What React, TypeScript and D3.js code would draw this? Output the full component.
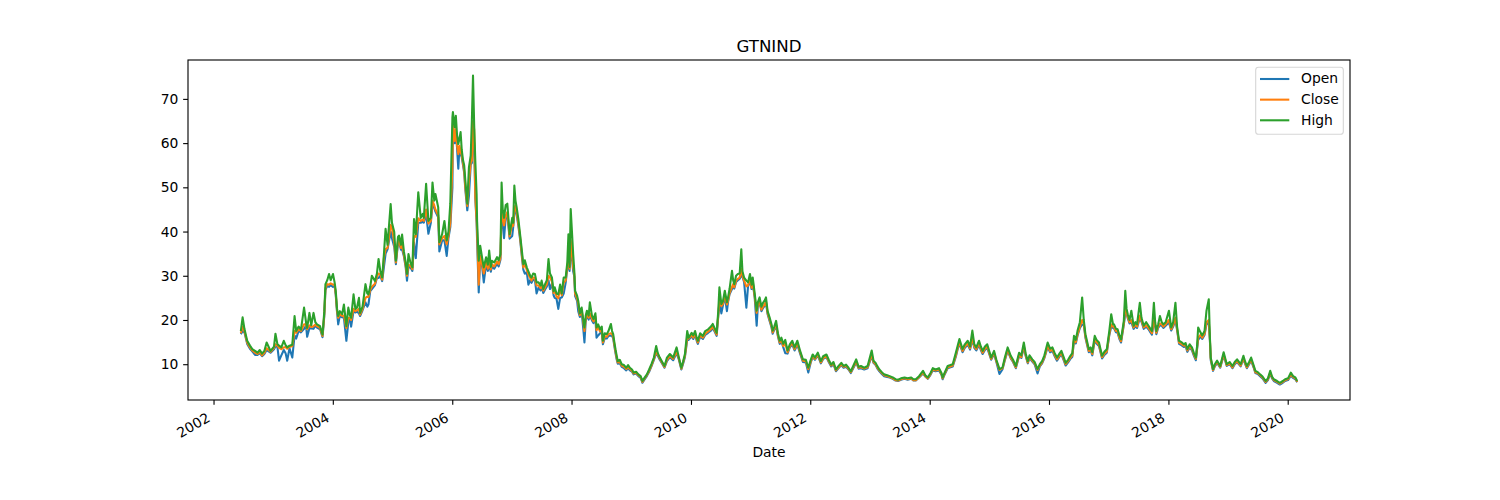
import React, { useEffect, useRef } from 'react'
import * as d3 from 'd3'

// GTNIND prices, sampled roughly every two weeks (one row per year)
const dates: string[] = [
  '2002-06-17', '2002-06-28', '2002-07-09', '2002-07-26', '2002-08-12', '2002-08-26', '2002-09-12', '2002-09-27', '2002-10-11', '2002-10-25', '2002-11-08', '2002-11-22', '2002-12-16',
  '2003-01-06', '2003-01-15', '2003-01-27', '2003-02-06', '2003-02-20', '2003-03-07', '2003-03-18', '2003-03-28', '2003-04-11', '2003-04-28', '2003-05-12', '2003-05-22', '2003-06-06', '2003-06-20', '2003-07-09', '2003-07-21', '2003-07-28', '2003-08-11', '2003-08-22', '2003-09-05', '2003-09-16', '2003-09-26', '2003-10-15', '2003-10-30', '2003-11-10', '2003-11-17', '2003-11-28', '2003-12-09', '2003-12-19',
  '2004-01-02', '2004-01-12', '2004-01-19', '2004-01-27', '2004-02-03', '2004-02-13', '2004-02-27', '2004-03-09', '2004-03-24', '2004-04-05', '2004-04-15', '2004-04-22', '2004-05-07', '2004-05-18', '2004-05-28', '2004-06-09', '2004-06-16', '2004-07-01', '2004-07-19', '2004-07-30', '2004-08-06', '2004-08-17', '2004-08-27', '2004-09-15', '2004-09-27', '2004-10-07', '2004-10-18', '2004-10-29', '2004-11-09', '2004-11-19', '2004-12-01', '2004-12-20', '2004-12-28',
  '2005-01-11', '2005-01-21', '2005-02-03', '2005-02-09', '2005-02-21', '2005-02-28', '2005-03-11', '2005-03-22', '2005-03-30', '2005-04-08', '2005-04-20', '2005-05-02', '2005-05-12', '2005-05-23', '2005-06-07', '2005-06-22', '2005-07-04', '2005-07-11', '2005-07-25', '2005-08-08', '2005-08-23', '2005-09-02', '2005-09-13', '2005-09-20', '2005-10-07', '2005-10-14', '2005-10-31', '2005-11-14', '2005-11-28', '2005-12-09', '2005-12-20',
  '2006-01-02', '2006-01-05', '2006-01-16', '2006-01-23', '2006-01-30', '2006-02-07', '2006-02-14', '2006-02-21', '2006-02-28', '2006-03-08', '2006-03-15', '2006-03-22', '2006-04-03', '2006-04-13', '2006-04-24', '2006-05-01', '2006-05-08', '2006-05-15', '2006-05-22', '2006-05-30', '2006-06-02', '2006-06-12', '2006-06-21', '2006-07-03', '2006-07-13', '2006-07-27', '2006-08-07', '2006-08-15', '2006-08-25', '2006-09-01', '2006-09-15', '2006-10-02', '2006-10-12', '2006-10-23', '2006-10-30', '2006-11-06', '2006-11-14', '2006-11-24', '2006-12-04', '2006-12-18',
  '2007-01-03', '2007-01-09', '2007-01-16', '2007-01-23', '2007-01-30', '2007-02-09', '2007-02-20', '2007-03-05', '2007-03-12', '2007-03-21', '2007-04-02', '2007-04-12', '2007-04-23', '2007-05-01', '2007-05-11', '2007-05-22', '2007-06-01', '2007-06-13', '2007-06-25', '2007-07-02', '2007-07-12', '2007-07-23', '2007-08-03', '2007-08-13', '2007-08-22', '2007-09-03', '2007-09-13', '2007-09-20', '2007-10-01', '2007-10-12', '2007-10-23', '2007-11-02', '2007-11-14', '2007-11-26', '2007-12-06', '2007-12-13', '2007-12-20', '2007-12-27',
  '2008-01-11', '2008-01-18', '2008-01-23', '2008-02-04', '2008-02-11', '2008-02-21', '2008-03-03', '2008-03-13', '2008-03-20', '2008-03-28', '2008-04-04', '2008-04-15', '2008-04-22', '2008-05-05', '2008-05-14', '2008-05-26', '2008-06-02', '2008-06-12', '2008-06-24', '2008-07-04', '2008-07-11', '2008-07-22', '2008-08-04', '2008-08-14', '2008-08-29', '2008-09-05', '2008-09-12', '2008-09-19', '2008-09-26', '2008-10-03', '2008-10-10', '2008-10-22', '2008-11-03', '2008-11-17', '2008-12-01', '2008-12-12', '2008-12-23',
  '2009-01-05', '2009-01-15', '2009-01-30', '2009-02-13', '2009-02-27', '2009-03-10', '2009-03-20', '2009-04-06', '2009-04-20', '2009-05-04', '2009-05-19', '2009-06-02', '2009-06-12', '2009-06-24', '2009-07-09', '2009-07-23', '2009-08-07', '2009-08-25', '2009-09-14', '2009-10-05', '2009-10-19', '2009-11-03', '2009-11-13', '2009-11-25', '2009-12-09', '2009-12-18',
  '2010-01-05', '2010-01-15', '2010-01-26', '2010-02-05', '2010-02-12', '2010-02-26', '2010-03-15', '2010-03-29', '2010-04-16', '2010-05-03', '2010-05-14', '2010-05-28', '2010-06-07', '2010-06-17', '2010-06-24', '2010-07-06', '2010-07-16', '2010-07-27', '2010-08-09', '2010-08-16', '2010-08-25', '2010-09-09', '2010-09-16', '2010-09-23', '2010-10-04', '2010-10-15', '2010-10-26', '2010-11-05', '2010-11-12', '2010-11-22', '2010-12-06', '2010-12-16', '2010-12-28',
  '2011-01-07', '2011-01-14', '2011-01-26', '2011-02-07', '2011-02-14', '2011-02-25', '2011-03-08', '2011-03-18', '2011-03-29', '2011-04-05', '2011-04-15', '2011-04-27', '2011-05-09', '2011-05-16', '2011-05-26', '2011-06-06', '2011-06-17', '2011-06-28', '2011-07-08', '2011-07-20', '2011-08-01', '2011-08-15', '2011-08-29', '2011-09-13', '2011-09-27', '2011-10-14', '2011-10-31', '2011-11-17', '2011-12-05', '2011-12-20',
  '2012-01-04', '2012-01-16', '2012-01-30', '2012-02-16', '2012-03-06', '2012-03-20', '2012-04-09', '2012-04-23', '2012-05-08', '2012-05-22', '2012-06-06', '2012-06-20', '2012-07-09', '2012-07-23', '2012-08-07', '2012-08-22', '2012-09-05', '2012-09-20', '2012-10-08', '2012-10-23', '2012-11-06', '2012-11-26', '2012-12-17',
  '2013-01-11', '2013-01-22', '2013-02-04', '2013-02-15', '2013-02-27', '2013-03-14', '2013-03-28', '2013-04-16', '2013-05-01', '2013-05-20', '2013-06-06', '2013-06-21', '2013-07-09', '2013-07-31', '2013-08-19', '2013-09-10', '2013-09-23', '2013-10-08', '2013-10-28', '2013-11-21', '2013-12-05', '2013-12-20',
  '2014-01-06', '2014-01-20', '2014-02-06', '2014-02-27', '2014-03-14', '2014-03-21', '2014-04-04', '2014-04-21', '2014-05-08', '2014-05-22', '2014-06-10', '2014-06-20', '2014-07-02', '2014-07-21', '2014-08-04', '2014-08-22', '2014-09-05', '2014-09-19', '2014-10-01', '2014-10-13', '2014-10-30', '2014-11-10', '2014-11-21', '2014-12-05', '2014-12-19',
  '2015-01-12', '2015-01-30', '2015-02-13', '2015-03-04', '2015-03-23', '2015-04-06', '2015-04-23', '2015-05-12', '2015-05-26', '2015-06-12', '2015-07-02', '2015-07-16', '2015-07-31', '2015-08-11', '2015-08-24', '2015-09-04', '2015-09-21', '2015-10-05', '2015-10-23', '2015-11-06', '2015-11-20', '2015-12-04', '2015-12-24',
  '2016-01-08', '2016-01-22', '2016-02-05', '2016-02-19', '2016-03-07', '2016-03-17', '2016-04-01', '2016-04-12', '2016-04-27', '2016-05-11', '2016-05-23', '2016-06-02', '2016-06-13', '2016-06-24', '2016-07-08', '2016-07-22', '2016-08-01', '2016-08-11', '2016-08-22', '2016-09-01', '2016-09-12', '2016-09-22', '2016-10-07', '2016-10-18', '2016-11-02', '2016-11-14', '2016-11-21', '2016-12-05', '2016-12-20',
  '2017-01-04', '2017-01-16', '2017-01-27', '2017-02-02', '2017-02-14', '2017-02-24', '2017-03-07', '2017-03-17', '2017-04-03', '2017-04-12', '2017-04-20', '2017-04-27', '2017-05-08', '2017-05-19', '2017-06-02', '2017-06-13', '2017-06-23', '2017-07-10', '2017-07-20', '2017-08-03', '2017-08-18', '2017-09-01', '2017-09-13', '2017-09-22', '2017-10-04', '2017-10-12', '2017-10-19', '2017-10-30', '2017-11-10', '2017-11-21', '2017-12-01', '2017-12-15',
  '2018-01-04', '2018-01-18', '2018-01-30', '2018-02-13', '2018-02-23', '2018-03-07', '2018-03-21', '2018-04-05', '2018-04-16', '2018-04-27', '2018-05-11', '2018-05-25', '2018-06-06', '2018-06-18', '2018-06-25', '2018-07-02', '2018-07-16', '2018-07-27', '2018-08-10', '2018-08-22', '2018-09-05', '2018-09-12', '2018-09-17', '2018-10-01', '2018-10-12', '2018-10-26', '2018-11-14', '2018-12-05', '2018-12-24',
  '2019-01-11', '2019-01-28', '2019-02-11', '2019-02-25', '2019-03-19', '2019-04-05', '2019-04-16', '2019-04-26', '2019-05-10', '2019-05-22', '2019-06-06', '2019-06-17', '2019-07-02', '2019-07-16', '2019-07-31', '2019-08-19', '2019-09-02', '2019-09-16', '2019-09-27', '2019-10-08', '2019-10-28', '2019-11-14', '2019-12-02', '2019-12-16',
  '2020-01-03', '2020-01-20', '2020-02-03', '2020-02-17', '2020-02-28'
]

const openValues: number[] = [
  16.8, 17.5, 17.2, 14.6, 13.5, 12.9, 12.1, 12.1, 12.5, 11.8, 12.3, 13.2, 12.6,
  13.4, 14.0, 13.9, 10.8, 12.0, 13.2, 12.5, 10.8, 13.6, 11.5, 16.5, 15.8, 17.6, 17.2, 18.0, 18.7, 16.2, 18.2, 18.1, 18.0, 18.7, 18.3, 17.9, 16.1, 20.9, 26.8, 27.7, 27.5, 27.9,
  27.5, 27.7, 25.6, 21.7, 19.0, 21.0, 20.6, 20.5, 15.3, 19.5, 20.2, 18.5, 22.0, 21.7, 21.9, 21.5, 20.9, 22.2, 24.0, 23.0, 23.5, 26.5, 27.0, 27.9, 29.5, 29.5, 30.0, 28.8, 32.0, 35.0, 36.0, 40.0, 38.5,
  36.5, 32.6, 37.4, 37.7, 35.9, 36.0, 34.4, 31.9, 28.9, 32.0, 31.9, 31.1, 37.5, 34.0, 42.0, 42.0, 42.2, 42.0, 44.0, 39.5, 42.0, 46.0, 45.4, 44.5, 43.2, 35.5, 38.0, 38.0, 34.5, 38.6, 41.0,
  50.0, 64.0, 60.0, 62.7, 59.1, 54.2, 58.9, 57.5, 56.8, 55.0, 53.3, 49.5, 44.8, 48.0, 55.1, 55.5, 62.0, 60.0, 47.5, 42.0, 38.0, 26.2, 34.0, 32.0, 28.5, 32.6, 31.1, 32.5, 30.9, 32.1, 31.6, 32.7, 32.1, 33.6, 44.0, 42.7, 38.5, 43.1, 43.9, 38.4,
  39.0, 41.0, 44.0, 45.4, 43.9, 41.4, 38.3, 33.6, 31.4, 30.5, 30.8, 28.0, 29.0, 28.4, 29.1, 29.0, 26.0, 27.3, 26.7, 27.5, 26.1, 26.9, 27.6, 29.0, 27.0, 28.2, 25.6, 25.0, 24.8, 22.5, 25.0, 25.1, 26.0, 28.4, 31.6, 33.0, 31.1, 37.0,
  31.0, 29.8, 25.4, 24.3, 22.0, 20.7, 21.8, 18.0, 14.9, 19.9, 21.0, 20.1, 21.0, 19.9, 19.3, 20.4, 16.0, 16.5, 17.0, 17.4, 14.5, 15.9, 15.8, 16.4, 16.5, 16.4, 15.8, 14.1, 12.5, 11.1, 10.1, 10.2, 9.4, 9.1, 8.6, 9.1, 8.6,
  8.3, 7.7, 7.9, 7.3, 6.9, 5.8, 6.4, 7.3, 8.3, 9.5, 11.0, 12.5, 11.9, 11.0, 10.1, 9.2, 10.7, 11.6, 10.9, 12.5, 11.0, 8.8, 10.0, 11.6, 15.5, 15.5,
  16.3, 15.7, 16.7, 15.3, 14.6, 16.2, 15.7, 16.6, 17.1, 17.6, 18.2, 17.2, 16.4, 20.8, 24.0, 21.5, 23.4, 25.4, 22.0, 24.1, 25.8, 27.0, 27.8, 27.1, 28.6, 29.0, 29.3, 30.0, 29.8, 28.6, 22.8, 27.5, 29.0,
  27.0, 28.4, 25.0, 18.7, 23.0, 23.9, 22.0, 22.7, 23.3, 23.9, 21.3, 19.8, 18.3, 16.9, 17.8, 18.7, 16.3, 14.6, 15.2, 13.8, 12.5, 12.4, 13.8, 14.5, 13.1, 14.4, 12.4, 10.5, 10.4, 8.1,
  10.4, 11.6, 11.0, 12.0, 10.2, 11.2, 11.6, 10.5, 9.5, 10.0, 8.4, 9.0, 9.8, 9.2, 9.4, 8.8, 8.0, 9.1, 10.4, 9.0, 9.1, 8.8, 9.1,
  11.9, 10.3, 9.8, 9.0, 8.4, 7.8, 7.3, 7.1, 7.0, 6.7, 6.3, 6.2, 6.5, 6.7, 6.5, 6.7, 6.3, 6.3, 7.0, 7.9, 7.2, 6.7,
  7.6, 8.6, 8.4, 8.6, 7.6, 6.6, 7.8, 9.1, 9.3, 9.5, 11.7, 13.2, 14.7, 12.7, 13.7, 14.4, 13.3, 15.6, 13.7, 13.1, 14.4, 13.2, 12.3, 13.2, 13.7,
  11.0, 12.3, 10.5, 7.8, 8.9, 10.9, 13.0, 11.3, 10.5, 9.1, 11.8, 11.4, 13.9, 11.9, 10.2, 11.4, 10.6, 10.0, 7.9, 9.5, 10.2, 11.4, 13.9,
  12.7, 13.0, 11.8, 10.8, 11.8, 12.2, 10.8, 9.7, 10.4, 11.2, 11.7, 15.3, 14.7, 16.5, 18.2, 19.0, 18.9, 16.0, 14.2, 12.7, 13.1, 12.0, 15.4, 14.7, 14.1, 12.3, 11.3, 12.1, 12.6,
  16.5, 18.5, 18.2, 18.1, 17.2, 17.1, 15.7, 14.9, 18.9, 21.5, 21.5, 20.4, 19.2, 19.5, 18.0, 18.6, 18.2, 20.5, 19.6, 18.0, 18.5, 17.9, 17.2, 16.7, 19.5, 18.6, 16.8, 18.2, 18.8, 18.7, 18.2, 18.7,
  19.5, 17.6, 18.5, 20.0, 17.7, 14.6, 14.3, 13.9, 14.1, 12.8, 13.8, 13.1, 11.9, 10.9, 13.3, 15.5, 16.3, 15.7, 16.6, 19.0, 19.5, 15.2, 10.9, 8.5, 9.5, 10.3, 9.2, 12.0, 9.6,
  10.0, 9.1, 10.0, 10.5, 9.5, 11.2, 10.0, 9.1, 10.0, 10.8, 9.3, 8.0, 7.8, 7.3, 6.8, 5.8, 6.4, 7.9, 6.8, 6.2, 5.8, 5.4, 5.8, 6.2,
  6.4, 7.4, 6.9, 6.6, 5.9
]

const closeValues: number[] = [
  17.0, 18.5, 17.5, 14.9, 13.8, 13.1, 12.6, 12.3, 12.8, 12.0, 12.6, 13.6, 12.8,
  13.7, 14.5, 14.2, 13.7, 13.4, 13.8, 13.9, 13.5, 13.9, 14.1, 17.5, 17.1, 17.9, 17.5, 19.0, 19.0, 17.9, 18.8, 18.4, 18.6, 19.0, 18.6, 18.2, 16.4, 21.3, 27.2, 28.1, 28.0, 28.3,
  28.0, 28.0, 25.9, 22.0, 20.5, 21.3, 20.9, 21.0, 18.2, 20.5, 20.5, 20.0, 22.5, 22.0, 22.2, 22.5, 21.2, 22.5, 25.0, 25.3, 25.2, 26.8, 27.5, 28.2, 29.8, 30.5, 30.3, 29.1, 34.1, 36.0, 36.3, 41.5, 40.9,
  37.5, 33.0, 37.8, 38.1, 36.3, 37.0, 34.8, 32.3, 30.0, 32.5, 32.3, 31.5, 39.0, 38.8, 43.0, 42.4, 42.7, 42.4, 45.0, 41.8, 42.4, 47.0, 45.9, 45.0, 43.7, 37.1, 38.5, 39.0, 37.1, 39.1, 42.0,
  55.0, 64.6, 60.5, 63.2, 59.6, 57.5, 59.4, 58.0, 57.3, 55.5, 53.8, 50.0, 45.8, 51.2, 55.6, 56.0, 65.0, 63.1, 48.0, 42.5, 40.0, 28.0, 34.5, 32.5, 30.5, 33.1, 31.6, 33.0, 31.4, 32.6, 32.1, 33.2, 32.6, 34.1, 45.0, 43.2, 41.4, 43.6, 44.4, 38.9,
  41.7, 41.3, 45.0, 45.9, 44.4, 41.9, 38.8, 34.1, 31.9, 32.6, 31.3, 30.3, 29.5, 28.9, 29.6, 29.5, 27.8, 27.8, 27.2, 28.0, 26.6, 27.4, 28.1, 30.0, 29.6, 28.7, 26.1, 26.8, 25.3, 24.9, 27.1, 25.6, 28.4, 28.9, 32.1, 34.0, 31.6, 38.0,
  32.0, 30.3, 25.9, 24.8, 23.7, 21.1, 22.2, 19.6, 17.5, 20.3, 21.4, 20.5, 21.5, 20.3, 19.7, 20.8, 17.7, 18.3, 17.4, 17.8, 14.9, 16.3, 16.2, 16.8, 17.0, 16.8, 16.2, 14.5, 12.9, 11.5, 10.4, 10.5, 9.7, 9.4, 8.9, 9.4, 8.9,
  8.5, 7.9, 8.1, 7.5, 7.1, 6.0, 6.6, 7.5, 8.5, 9.7, 11.2, 12.8, 12.2, 11.3, 10.3, 9.4, 11.0, 11.9, 11.2, 12.8, 11.3, 9.0, 10.3, 11.9, 16.0, 15.8,
  16.6, 16.0, 17.0, 15.6, 14.9, 16.5, 16.0, 16.9, 17.4, 17.9, 18.5, 17.5, 16.7, 21.1, 24.5, 23.1, 23.7, 25.7, 23.5, 24.4, 26.1, 27.5, 28.1, 27.4, 28.9, 29.3, 29.6, 31.5, 30.1, 28.9, 27.6, 27.8, 29.3,
  27.3, 28.7, 25.3, 21.6, 23.3, 24.2, 22.3, 23.0, 23.6, 24.2, 21.6, 20.1, 18.6, 17.2, 18.1, 19.0, 16.6, 14.9, 15.5, 14.1, 14.8, 12.7, 14.1, 14.8, 13.4, 14.7, 12.7, 10.8, 10.7, 8.9,
  10.6, 11.8, 11.2, 12.2, 10.4, 11.4, 11.8, 10.7, 9.7, 10.2, 8.6, 9.2, 10.0, 9.4, 9.6, 9.0, 8.2, 9.3, 10.6, 9.2, 9.3, 9.0, 9.3,
  12.2, 10.5, 10.0, 9.2, 8.6, 8.0, 7.5, 7.3, 7.1, 6.8, 6.4, 6.3, 6.6, 6.8, 6.6, 6.8, 6.4, 6.4, 7.1, 8.1, 7.3, 6.8,
  7.8, 8.8, 8.6, 8.8, 7.8, 6.8, 8.0, 9.3, 9.5, 9.7, 12.0, 13.5, 15.0, 13.0, 14.0, 14.7, 13.6, 16.0, 14.0, 13.4, 14.7, 13.5, 12.6, 13.5, 14.0,
  11.2, 12.6, 10.7, 8.7, 9.1, 11.1, 13.3, 11.5, 10.7, 9.3, 12.1, 11.6, 14.2, 12.1, 10.4, 11.6, 10.8, 10.2, 8.7, 9.7, 10.4, 11.6, 14.2,
  13.0, 13.3, 12.1, 11.1, 12.1, 12.5, 11.1, 10.0, 10.7, 11.5, 12.0, 15.6, 15.0, 16.8, 18.5, 20.0, 19.2, 16.3, 14.5, 13.0, 13.4, 12.3, 15.7, 15.0, 14.4, 12.6, 11.6, 12.4, 12.9,
  16.8, 19.0, 18.5, 18.4, 17.5, 17.4, 16.0, 15.2, 19.2, 22.5, 21.8, 20.7, 19.5, 20.0, 18.3, 18.9, 18.5, 21.0, 19.9, 18.3, 18.8, 18.2, 17.5, 17.0, 20.0, 18.9, 17.1, 18.5, 19.2, 19.0, 18.5, 19.0,
  20.0, 17.9, 18.8, 20.5, 18.0, 14.9, 14.6, 14.2, 14.4, 13.1, 14.1, 13.4, 12.2, 11.2, 13.6, 16.0, 16.6, 16.0, 16.9, 19.5, 20.0, 15.5, 11.2, 8.7, 9.7, 10.5, 9.4, 12.2, 9.8,
  10.2, 9.3, 10.2, 10.7, 9.7, 11.4, 10.2, 9.3, 10.2, 11.0, 9.5, 8.2, 8.0, 7.5, 7.0, 6.0, 6.6, 8.1, 7.0, 6.4, 6.0, 5.6, 6.0, 6.4,
  6.6, 7.6, 7.1, 6.8, 6.0
]

const highValues: number[] = [
  17.5, 20.6, 18.0, 15.3, 14.2, 13.4, 13.0, 12.6, 13.2, 12.4, 13.0, 14.9, 13.0,
  14.0, 16.9, 14.5, 14.2, 13.8, 15.3, 14.3, 13.8, 14.2, 14.4, 20.9, 17.5, 18.5, 17.8, 22.8, 19.5, 18.2, 21.6, 18.8, 21.6, 19.5, 19.0, 18.6, 16.7, 22.0, 28.1, 29.0, 30.4, 29.0,
  30.4, 28.5, 26.6, 22.5, 20.9, 22.0, 21.3, 23.5, 18.6, 22.8, 21.0, 20.5, 25.8, 22.5, 22.8, 25.0, 21.6, 23.0, 28.1, 26.0, 25.8, 27.5, 30.0, 28.8, 30.5, 33.8, 31.0, 29.6, 35.0, 40.6, 37.0, 46.2, 42.0,
  39.9, 33.4, 38.8, 39.1, 37.0, 39.3, 35.5, 33.0, 30.4, 34.9, 33.0, 31.9, 42.8, 39.4, 48.9, 43.1, 44.0, 43.1, 50.8, 42.4, 43.1, 51.1, 47.0, 48.5, 45.5, 37.6, 39.4, 42.4, 38.0, 40.0, 46.3,
  65.8, 67.0, 63.6, 66.2, 62.0, 59.8, 61.0, 62.5, 58.5, 56.1, 55.0, 51.6, 46.3, 54.5, 57.2, 65.1, 75.3, 64.3, 56.0, 48.5, 42.4, 33.4, 36.8, 34.0, 31.9, 34.2, 32.5, 35.7, 32.0, 33.4, 33.0, 34.2, 33.5, 34.9, 51.1, 45.0, 43.1, 46.0, 46.3, 39.4,
  43.1, 42.0, 50.4, 47.0, 45.5, 43.0, 39.4, 35.0, 32.6, 33.5, 31.9, 31.0, 30.0, 29.6, 30.5, 30.4, 28.5, 28.5, 27.8, 28.9, 27.0, 28.1, 29.0, 33.8, 30.5, 29.6, 26.5, 27.4, 26.0, 25.8, 28.0, 26.0, 29.6, 29.6, 33.0, 39.4, 32.0, 45.1,
  34.9, 31.0, 26.6, 25.5, 24.3, 21.5, 22.8, 20.0, 18.3, 21.0, 22.1, 21.0, 24.0, 21.0, 20.2, 21.5, 18.3, 19.0, 17.9, 18.5, 15.3, 17.0, 16.8, 17.5, 19.1, 17.5, 16.8, 15.0, 13.4, 12.0, 10.7, 11.0, 10.0, 9.8, 9.2, 9.8, 9.2,
  8.8, 8.1, 8.3, 7.7, 7.3, 6.2, 6.8, 7.7, 8.8, 10.0, 11.5, 14.1, 12.5, 11.5, 10.5, 9.6, 11.5, 12.3, 11.5, 13.8, 11.5, 9.2, 10.5, 12.3, 17.5, 16.0,
  17.1, 16.5, 17.5, 16.0, 15.3, 17.0, 16.4, 17.5, 17.9, 18.5, 19.1, 18.0, 17.1, 22.0, 27.4, 23.6, 24.3, 26.6, 24.0, 25.1, 27.0, 31.1, 29.0, 28.1, 30.0, 30.4, 30.5, 36.0, 31.0, 29.6, 28.9, 28.5, 30.4,
  28.0, 29.6, 26.0, 22.1, 24.0, 25.1, 23.0, 23.9, 24.5, 25.1, 22.0, 20.6, 19.0, 17.6, 18.5, 19.8, 17.0, 15.3, 16.0, 14.6, 15.5, 13.1, 14.5, 15.3, 13.8, 15.3, 13.0, 11.1, 11.0, 9.2,
  11.0, 12.2, 11.5, 12.6, 10.7, 11.8, 12.2, 11.0, 9.9, 10.5, 8.8, 9.5, 10.3, 9.6, 9.9, 9.2, 8.4, 9.6, 11.1, 9.4, 9.6, 9.2, 9.6,
  13.1, 10.8, 10.3, 9.5, 8.8, 8.2, 7.7, 7.5, 7.3, 7.0, 6.6, 6.5, 6.8, 7.0, 6.8, 7.0, 6.6, 6.6, 7.3, 8.5, 7.5, 7.0,
  8.0, 9.1, 8.8, 9.1, 8.0, 7.0, 8.2, 9.6, 9.8, 10.0, 12.6, 14.0, 15.7, 13.4, 14.5, 15.3, 14.0, 17.6, 14.5, 13.8, 15.3, 14.0, 13.0, 14.0, 14.5,
  11.5, 13.0, 11.0, 8.9, 9.3, 11.5, 13.8, 11.9, 11.0, 9.6, 12.6, 12.0, 14.9, 12.5, 10.7, 12.0, 11.1, 10.5, 8.9, 10.0, 10.7, 12.0, 14.9,
  13.5, 13.8, 12.5, 11.5, 12.5, 13.0, 11.5, 10.3, 11.0, 11.9, 12.5, 16.4, 15.5, 17.6, 19.5, 25.1, 20.0, 16.8, 15.0, 13.4, 13.8, 12.7, 16.4, 15.5, 14.9, 13.0, 11.9, 12.8, 13.4,
  17.5, 21.3, 19.0, 19.0, 18.0, 17.9, 16.5, 15.6, 19.8, 26.6, 22.5, 21.3, 20.0, 22.1, 18.7, 19.5, 19.0, 23.9, 20.5, 18.7, 19.5, 18.7, 18.0, 17.5, 23.9, 19.5, 17.5, 19.0, 20.9, 19.5, 19.0, 19.5,
  22.1, 18.3, 19.5, 23.9, 18.5, 15.3, 15.0, 14.5, 14.8, 13.4, 14.5, 13.8, 12.5, 11.5, 14.0, 18.3, 17.2, 16.5, 17.5, 22.1, 24.7, 16.0, 11.5, 8.9, 10.0, 10.8, 9.6, 12.7, 10.0,
  10.5, 9.6, 10.5, 11.1, 10.0, 11.9, 10.5, 9.6, 10.5, 11.5, 9.8, 8.5, 8.2, 7.7, 7.2, 6.2, 6.8, 8.5, 7.2, 6.6, 6.2, 5.8, 6.2, 6.6,
  6.8, 8.1, 7.3, 7.0, 6.2
]

const seriesNames = ['Open', 'Close', 'High']
const seriesColors = ['#1f77b4', '#ff7f0e', '#2ca02c']
const yTicks = [10, 20, 30, 40, 50, 60, 70]
const chartTitle = 'GTNIND'
const xLabel = 'Date'

const WIDTH = 1500
const HEIGHT = 500
const PT = 100 / 72
const FONT = 'DejaVu Sans, Verdana, sans-serif'

const dims = { left: 188, right: 1350, top: 60, bottom: 400 }

const parseDate = d3.timeParse('%Y-%m-%d')

const useD3 = (renderChartFn: (svg: any) => void) => {
  const ref = useRef<SVGSVGElement>(null)
  useEffect(() => {
    if (!ref.current) return
    const svg = d3.select(ref.current)
    svg.selectAll('*').remove()
    renderChartFn(svg)
  }, [])
  return ref
}

const DrawChart = () => {
  const ref = useD3(svg => {
    const n = Math.min(dates.length, openValues.length, closeValues.length, highValues.length)
    const time = dates.slice(0, n).map(d => parseDate(d) as Date)
    const columns = [openValues, closeValues, highValues].map(c => c.slice(0, n))

    // 5% margins on both axes, like matplotlib
    const [t0, t1] = d3.extent(time) as [Date, Date]
    const tPad = (t1.getTime() - t0.getTime()) * 0.05
    const xScale = d3
      .scaleTime()
      .domain([new Date(t0.getTime() - tPad), new Date(t1.getTime() + tPad)])
      .range([dims.left, dims.right])

    const [vMin, vMax] = d3.extent(columns.flat()) as [number, number]
    const vPad = (vMax - vMin) * 0.05
    const yScale = d3
      .scaleLinear()
      .domain([vMin - vPad, vMax + vPad])
      .range([dims.bottom, dims.top])

    svg
      .append('defs')
      .append('clipPath')
      .attr('id', 'plot-clip')
      .append('rect')
      .attr('x', dims.left)
      .attr('y', dims.top)
      .attr('width', dims.right - dims.left)
      .attr('height', dims.bottom - dims.top)

    const lineGenerator = d3
      .line<number>()
      .x((_, i) => xScale(time[i]))
      .y(v => yScale(v))

    const lines = svg.append('g').attr('clip-path', 'url(#plot-clip)')
    columns.forEach((col, i) => {
      lines
        .append('path')
        .attr('d', lineGenerator(col))
        .attr('fill', 'none')
        .attr('stroke', seriesColors[i])
        .attr('stroke-width', 1.5 * PT)
        .attr('stroke-linejoin', 'round')
    })

    // y axis
    const yAxis = svg
      .append('g')
      .attr('transform', `translate(${dims.left},0)`)
      .call(d3.axisLeft(yScale).tickValues(yTicks).tickSize(3.5 * PT).tickPadding(3.5 * PT).tickSizeOuter(0))
    yAxis.select('.domain').remove()
    yAxis.attr('font-size', 10 * PT).attr('font-family', FONT)
    yAxis.selectAll('line').attr('stroke', '#000').attr('stroke-width', 0.8 * PT)
    yAxis.selectAll('text').attr('fill', '#000')

    // x axis, labels rotated like autofmt_xdate
    const xAxis = svg
      .append('g')
      .attr('transform', `translate(0,${dims.bottom})`)
      .call(
        d3
          .axisBottom(xScale)
          .ticks(d3.timeYear.every(2))
          .tickFormat(d3.timeFormat('%Y'))
          .tickSize(3.5 * PT)
          .tickSizeOuter(0)
      )
    xAxis.select('.domain').remove()
    xAxis.attr('font-size', 10 * PT).attr('font-family', FONT)
    xAxis.selectAll('line').attr('stroke', '#000').attr('stroke-width', 0.8 * PT)
    xAxis
      .selectAll('text')
      .attr('fill', '#000')
      .attr('y', 0)
      .attr('dy', null)
      .attr('text-anchor', 'end')
      .attr('transform', 'translate(-3,20.5) rotate(-30)')

    // frame
    svg
      .append('rect')
      .attr('x', dims.left)
      .attr('y', dims.top)
      .attr('width', dims.right - dims.left)
      .attr('height', dims.bottom - dims.top)
      .attr('fill', 'none')
      .attr('stroke', '#000')
      .attr('stroke-width', 0.8 * PT)

    svg
      .append('text')
      .attr('x', (dims.left + dims.right) / 2)
      .attr('y', 52.3)
      .attr('text-anchor', 'middle')
      .attr('font-family', FONT)
      .attr('font-size', 12 * PT)
      .text(chartTitle)

    svg
      .append('text')
      .attr('x', (dims.left + dims.right) / 2)
      .attr('y', 456.7)
      .attr('text-anchor', 'middle')
      .attr('font-family', FONT)
      .attr('font-size', 10 * PT)
      .text(xLabel)

    // legend
    const legend = svg.append('g')
    legend
      .append('rect')
      .attr('x', 1255.7)
      .attr('y', 67.3)
      .attr('width', 87.6)
      .attr('height', 67)
      .attr('rx', 2.8)
      .attr('fill', '#fff')
      .attr('fill-opacity', 0.8)
      .attr('stroke', '#d6d6d6')
      .attr('stroke-width', 0.8 * PT)
    seriesNames.forEach((name, i) => {
      const ly = 79 + i * 20.65
      legend
        .append('line')
        .attr('x1', 1260)
        .attr('x2', 1289.3)
        .attr('y1', ly)
        .attr('y2', ly)
        .attr('stroke', seriesColors[i])
        .attr('stroke-width', 1.5 * PT)
      legend
        .append('text')
        .attr('x', 1301)
        .attr('y', ly + 4.3)
        .attr('font-family', FONT)
        .attr('font-size', 10 * PT)
        .text(name)
    })
  })

  return (
    <svg
      ref={ref}
      width={WIDTH}
      height={HEIGHT}
      style={{ position: 'absolute', left: 0, top: 0, background: '#fff' }}
    />
  )
}

const App = () => {
  return <DrawChart />
}

export default App
